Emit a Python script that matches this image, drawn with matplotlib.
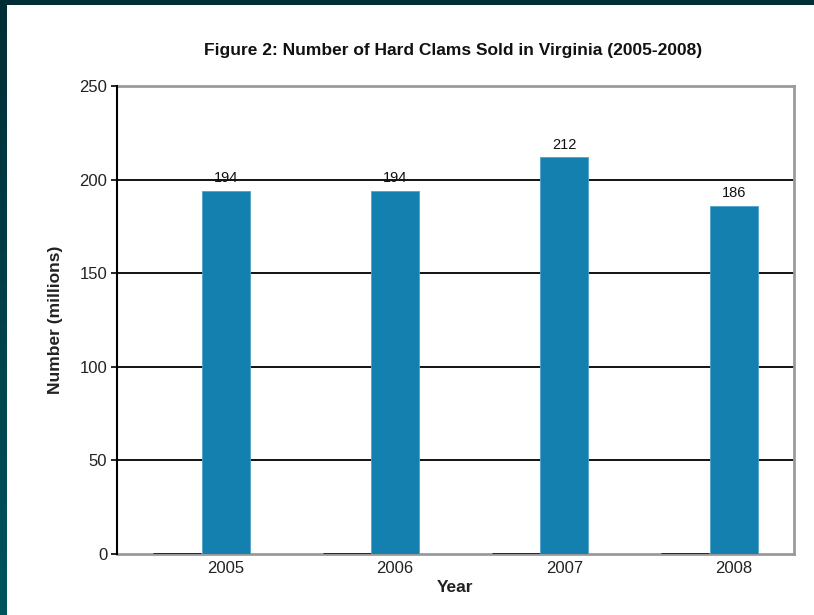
import matplotlib
matplotlib.use("Agg")
import matplotlib.pyplot as plt
import numpy as np
from matplotlib.patches import Rectangle

plt.rcParams["font.family"] = ["Liberation Sans", "DejaVu Sans"]

years = ["2005", "2006", "2007", "2008"]
clams_sold = [194, 194, 212, 186]
empty_series = [0, 0, 0, 0]   # zero-valued companion series, shows as black stubs on the baseline
y_ticks = [0, 50, 100, 150, 200, 250]

BAR_COLOR = "#1380b0"
FRAME_GRAY = "#9a9a9a"

fig = plt.figure(figsize=(8.14, 6.15), dpi=100)
fig.patch.set_facecolor("white")

# dark slide frame: top band + left gradient strip
fig.patches.append(Rectangle((0, 1 - 5 / 615), 1, 5 / 615, transform=fig.transFigure,
                             facecolor="#002d36", edgecolor="none", zorder=0))
strip = fig.add_axes([0, 0, 7 / 814, 1])
grad = np.linspace(0, 1, 256).reshape(-1, 1)
strip.imshow(grad, aspect="auto", cmap=matplotlib.colors.LinearSegmentedColormap.from_list(
    "frame", ["#002d36", "#00545c"]))
strip.axis("off")

ax = fig.add_axes([117 / 814, 1 - 554 / 615, (794 - 117) / 814, (554 - 86) / 615])

x = np.arange(len(years))
bar_w = 0.283
shift = 0.143

ax.bar(x - shift, empty_series, bar_w, color="none", edgecolor="black", linewidth=1.8, zorder=3)
bars = ax.bar(x + shift, clams_sold, bar_w, color=BAR_COLOR, edgecolor="#4fa3c9",
              linewidth=0.6, zorder=3)

for rect, v in zip(bars, clams_sold):
    ax.annotate(str(v), (rect.get_x() + rect.get_width() / 2, v), xytext=(0, 4),
                textcoords="offset points", ha="center", va="bottom", fontsize=10.5,
                color="#111111", zorder=4)

ax.set_xlim(-0.5, 3.5)
ax.set_ylim(0, 250)
ax.set_yticks(y_ticks)
ax.set_xticks(x + shift)
ax.set_xticklabels(years, fontsize=12)
ax.tick_params(axis="y", labelsize=12, labelcolor="#222222", length=4, width=1.2,
               color="black", pad=3)
ax.tick_params(axis="x", labelcolor="#222222", length=0, pad=5)

for v in y_ticks[1:-1]:
    ax.axhline(v, color="black", linewidth=1.3, zorder=1)

for side in ["top", "right", "bottom"]:
    ax.spines[side].set_color(FRAME_GRAY)
    ax.spines[side].set_linewidth(2)
ax.spines["left"].set_color("black")
ax.spines["left"].set_linewidth(1.5)
ax.spines["left"].set_zorder(5)

ax.set_ylabel("Number (millions)", fontsize=12.5, fontweight="bold", labelpad=12,
              color="#222222")
ax.set_xlabel("Year", fontsize=12.5, fontweight="bold", labelpad=3, color="#222222")
fig.text(453 / 814, 1 - 50 / 615, "Figure 2: Number of Hard Clams Sold in Virginia (2005-2008)",
         ha="center", va="center", fontsize=12.5, fontweight="bold", color="#111111")

fig.savefig("out.png", dpi=100)
